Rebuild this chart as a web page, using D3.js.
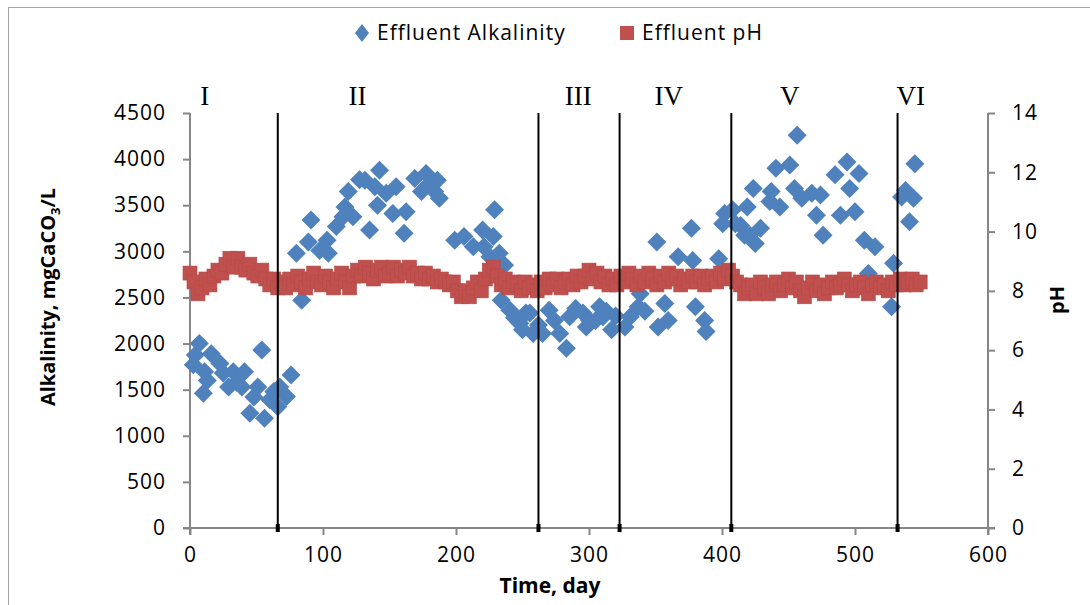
<!DOCTYPE html>
<html>
<head>
<meta charset="utf-8">
<script src="https://cdn.jsdelivr.net/npm/d3@7"></script>
<style>
  body { margin: 0; background: #fff; }
  svg { display: block; font-family: "Open Sans", sans-serif; }
</style>
</head>
<body>
<div id="chart"></div>
<script>
// Effluent alkalinity (mgCaCO3/L) and effluent pH over time

// Alkalinity series
var alkDays = [2.5, 4, 7, 10, 11, 13, 16, 22.5, 25, 29, 32.5, 35, 39, 41, 45, 48, 51, 54, 56, 60, 63, 66, 67.5, 72.5, 76,
  80, 84, 89, 91, 97.5, 103, 104, 110, 115, 116.5, 119, 122.5, 127.5, 131.5, 135, 139, 141, 142.5, 147.5, 152.5, 155,
  161, 162.5, 169, 174, 177.5, 180, 184, 186, 187.5, 199, 206, 213, 220, 221, 225.5, 228, 229, 232.5, 234, 236.5,
  240.5, 244, 248, 250, 252.5, 255.5, 258, 262, 265, 270, 274, 278, 283, 285.5, 290, 295.5, 298, 300.5, 305, 308,
  310.5, 313, 317, 320, 327, 331, 337, 338.5, 342, 351, 352, 357, 359.5, 367, 377, 378, 380, 387, 388, 397.5, 400.5,
  402, 408, 410, 414, 417, 419, 421, 423.5, 425, 429, 436, 437, 440.5, 443.5, 451, 454.5, 456.5, 460, 467.5, 471, 474,
  476, 485, 489, 494, 496, 500, 503, 507, 510, 515, 527.5, 529, 535, 538, 541, 544, 545];
var alkValues = [1770, 1875, 2000, 1460, 1695, 1600, 1890, 1785, 1680, 1530, 1695, 1580, 1530, 1695, 1245, 1420, 1530, 1930, 1190, 1390, 1480, 1315, 1530, 1425, 1660,
  2980, 2470, 3100, 3340, 3010, 3120, 2980, 3270, 3375, 3480, 3650, 3375, 3775, 3770, 3230, 3700, 3500, 3880, 3630, 3410, 3700,
  3195, 3430, 3790, 3650, 3845, 3735, 3650, 3770, 3575, 3120, 3160, 3050, 3230, 3050, 2940, 3160, 3450, 2980, 2470, 2850,
  2360, 2280, 2220, 2150, 2330, 2330, 2110, 2200, 2110, 2360, 2250, 2110, 1950, 2290, 2380, 2330, 2180, 2250, 2250, 2400,
  2290, 2350, 2150, 2300, 2180, 2290, 2400, 2540, 2350, 3100, 2180, 2435, 2250, 2940, 3250, 2900, 2400, 2250, 2130, 2920, 3300,
  3410, 3450, 3300, 3280, 3175, 3480, 3175, 3680, 3085, 3250, 3540, 3650, 3900, 3480, 3935, 3680, 4260, 3575, 3630, 3390, 3610,
  3175, 3830, 3390, 3970, 3680, 3430, 3845, 3120, 2760, 3050, 2400, 2870, 3590, 3660, 3320, 3575, 3950];

// pH series
var phDays = [0, 3, 6, 9, 12, 15, 18, 21, 24, 27,
  30, 33, 36, 39, 42, 45, 48, 51, 54, 57,
  60, 63, 66, 69, 72, 75, 78, 81, 84, 87,
  90, 93, 96, 99, 102, 105, 108, 111, 114, 117,
  120, 123, 126, 129, 132, 135, 138, 141, 144, 147,
  150, 153, 156, 159, 162, 165, 168, 171, 174, 177,
  180, 183, 186, 189, 192, 195, 198, 201, 204, 207,
  210, 213, 216, 219, 222, 225, 228, 231, 234, 237,
  240, 243, 246, 249, 252, 255, 258, 261, 264, 267,
  270, 273, 276, 279, 282, 285, 288, 291, 294, 297,
  300, 303, 306, 309, 312, 315, 318, 321, 324, 327,
  330, 333, 336, 339, 342, 345, 348, 351, 354, 357,
  360, 363, 366, 369, 372, 375, 378, 381, 384, 387,
  390, 393, 396, 399, 402, 405, 408, 411, 414, 417,
  420, 423, 426, 429, 432, 435, 438, 441, 444, 447,
  450, 453, 456, 459, 462, 465, 468, 471, 474, 477,
  480, 483, 486, 489, 492, 495, 498, 501, 504, 507,
  510, 513, 516, 519, 522, 525, 528, 531, 534, 537,
  540, 543, 546, 549];
var phValues = [8.6, 8.3, 7.9, 8.1, 8.4, 8.2, 8.5, 8.7, 8.6, 8.9,
  9.1, 8.8, 9.1, 8.8, 8.7, 8.9, 8.6, 8.5, 8.7, 8.4,
  8.2, 8.4, 8.1, 8.3, 8.1, 8.4, 8.2, 8.5, 8.3, 8.1,
  8.4, 8.6, 8.3, 8.2, 8.5, 8.3, 8.1, 8.4, 8.6, 8.3,
  8.1, 8.5, 8.7, 8.5, 8.8, 8.6, 8.4, 8.7, 8.8, 8.5,
  8.6, 8.8, 8.5, 8.7, 8.6, 8.8, 8.5, 8.6, 8.4, 8.6,
  8.4, 8.5, 8.3, 8.4, 8.3, 8.2, 8.3, 8.0, 7.8, 8.0,
  7.8, 8.1, 8.3, 8.0, 8.4, 8.7, 8.8, 8.5, 8.2, 8.4,
  8.1, 8.3, 8.2, 8.0, 8.3, 8.1, 8.2, 8.0, 8.3, 8.1,
  8.4, 8.2, 8.4, 8.1, 8.3, 8.4, 8.2, 8.5, 8.3, 8.5,
  8.7, 8.4, 8.6, 8.3, 8.5, 8.2, 8.4, 8.2, 8.5, 8.3,
  8.6, 8.4, 8.2, 8.5, 8.3, 8.6, 8.4, 8.2, 8.5, 8.3,
  8.6, 8.4, 8.5, 8.2, 8.4, 8.3, 8.5, 8.3, 8.5, 8.2,
  8.4, 8.5, 8.3, 8.6, 8.4, 8.7, 8.5, 8.3, 8.2, 7.9,
  8.1, 8.2, 7.9, 8.3, 8.1, 7.9, 8.2, 8.3, 8.0, 8.2,
  8.4, 8.1, 8.3, 8.0, 7.8, 8.1, 8.3, 8.0, 8.2, 7.9,
  8.1, 8.3, 8.1, 8.2, 8.4, 8.2, 8.0, 8.2, 8.3, 8.1,
  7.9, 8.2, 8.3, 8.1, 8.2, 8.0, 8.3, 8.2, 8.4, 8.2,
  8.3, 8.4, 8.2, 8.3];

// Operating phases
var phaseNames = ['I', 'II', 'III', 'IV', 'V', 'VI'];
var phaseBounds = [66, 262, 323, 407, 532];

// Ticks
var xTicks = [0, 100, 200, 300, 400, 500, 600];
var alkTicks = [0, 500, 1000, 1500, 2000, 2500, 3000, 3500, 4000, 4500];
var phTicks = [0, 2, 4, 6, 8, 10, 12, 14];

function drawChart() {
  var alkData = alkDays.map(function(d, i) { return {day: d, value: alkValues[i]}; });
  var phData = phDays.map(function(d, i) { return {day: d, value: phValues[i]}; });

  var width = 1090, height = 605;
  var plotL = 190, plotR = 988, plotT = 113, plotB = 528;
  var axisColor = '#868686';
  var blue = '#4F81BD', red = '#C0504D';
  // where the phase numerals sit (in days)
  var phaseLabelDay = [11, 126, 292, 360, 451, 542];

  var svg = d3.select('#chart').append('svg')
    .attr('width', width)
    .attr('height', height);

  // outer frame
  svg.append('rect')
    .attr('x', 8.5).attr('y', 7.5)
    .attr('width', 1100).attr('height', 620)
    .style('fill', 'none')
    .style('stroke', '#a6a6a6')
    .style('stroke-width', 1);

  var x = d3.scaleLinear().domain([0, 600]).range([plotL, plotR]);
  var yAlk = d3.scaleLinear().domain([0, 4500]).range([plotB, plotT]);
  var yPh = d3.scaleLinear().domain([0, 14]).range([plotB, plotT]);

  // Axes
  var xAxis = svg.append('g')
    .attr('transform', 'translate(0,' + plotB + ')')
    .call(d3.axisBottom(x).tickValues(xTicks).tickSize(7).tickPadding(12).tickFormat(d3.format('d')));
  var yAxisL = svg.append('g')
    .attr('transform', 'translate(' + plotL + ',0)')
    .call(d3.axisLeft(yAlk).tickValues(alkTicks).tickSize(7).tickPadding(17).tickFormat(d3.format('d')));
  var yAxisR = svg.append('g')
    .attr('transform', 'translate(' + plotR + ',0)')
    .call(d3.axisRight(yPh).tickValues(phTicks).tickSize(7).tickPadding(17));

  [xAxis, yAxisL, yAxisR].forEach(function(a) {
    a.select('.domain').remove();
    a.selectAll('.tick line').style('stroke', axisColor).style('stroke-width', 2);
    a.selectAll('.tick text')
      .style('font-family', '"Open Sans", sans-serif')
      .style('font-size', '21px')
      .style('letter-spacing', '1px')
      .style('fill', '#000');
  });
  // axis lines
  svg.append('line').attr('x1', plotL - 7).attr('x2', plotR + 7).attr('y1', plotB).attr('y2', plotB)
    .style('stroke', axisColor).style('stroke-width', 2);
  svg.append('line').attr('x1', plotL).attr('x2', plotL).attr('y1', plotT).attr('y2', plotB + 7)
    .style('stroke', axisColor).style('stroke-width', 2);
  svg.append('line').attr('x1', plotR).attr('x2', plotR).attr('y1', plotT).attr('y2', plotB + 7)
    .style('stroke', axisColor).style('stroke-width', 2);

  // Alkalinity diamonds
  var dh = 9.5;
  svg.append('g').selectAll('path')
    .data(alkData)
    .enter().append('path')
    .attr('d', 'M0,' + (-dh) + 'L' + dh + ',0L0,' + dh + 'L' + (-dh) + ',0Z')
    .attr('transform', function(d) { return 'translate(' + x(d.day) + ',' + yAlk(d.value) + ')'; })
    .style('fill', blue);

  // pH squares
  var sq = 14;
  svg.append('g').selectAll('rect')
    .data(phData)
    .enter().append('rect')
    .attr('x', function(d) { return x(d.day) - sq / 2; })
    .attr('y', function(d) { return yPh(d.value) - sq / 2; })
    .attr('width', sq).attr('height', sq)
    .style('fill', red)
    .style('stroke', '#b44a47')
    .style('stroke-width', 0.6);

  // Phase boundaries
  var bounds = svg.append('g').selectAll('g')
    .data(phaseBounds)
    .enter().append('g');
  bounds.append('line')
    .attr('x1', function(d) { return x(d); })
    .attr('x2', function(d) { return x(d); })
    .attr('y1', plotT)
    .attr('y2', plotB)
    .style('stroke', '#000')
    .style('stroke-width', 2);
  bounds.append('rect')
    .attr('x', function(d) { return x(d) - 2; })
    .attr('y', plotB - 4)
    .attr('width', 4).attr('height', 8)
    .style('fill', '#000');

  // Phase labels
  svg.append('g').selectAll('text')
    .data(phaseNames)
    .enter().append('text')
    .attr('x', function(d, i) { return x(phaseLabelDay[i]); })
    .attr('y', 105)
    .attr('text-anchor', 'middle')
    .style('font-family', '"Liberation Serif", serif')
    .style('font-size', '27px')
    .text(function(d) { return d; });

  // Axis titles
  svg.append('text')
    .attr('transform', 'translate(55,297) rotate(-90)')
    .attr('text-anchor', 'middle')
    .style('font-size', '20px')
    .style('font-weight', 'bold')
    .call(function(t) {
      t.append('tspan').text('Alkalinity, mgCaCO');
      t.append('tspan').attr('dy', 5).style('font-size', '13px').text('3');
      t.append('tspan').attr('dy', -5).text('/L');
    });
  svg.append('text')
    .attr('transform', 'translate(1064,300) rotate(-90)')
    .attr('text-anchor', 'middle')
    .style('font-size', '20px')
    .style('font-weight', 'bold')
    .text('pH');
  svg.append('text')
    .attr('x', 550).attr('y', 593)
    .attr('text-anchor', 'middle')
    .style('font-size', '21px')
    .style('font-weight', 'bold')
    .text('Time, day');

  // Legend
  var legend = svg.append('g');
  legend.append('path')
    .attr('d', 'M0,-9L7,0L0,9L-7,0Z')
    .attr('transform', 'translate(362,33)')
    .style('fill', blue);
  legend.append('text')
    .attr('x', 377).attr('y', 40)
    .style('font-size', '21px')
    .style('letter-spacing', '1px')
    .text('Effluent Alkalinity');
  legend.append('rect')
    .attr('x', 620).attr('y', 26)
    .attr('width', 14).attr('height', 14)
    .style('fill', red);
  legend.append('text')
    .attr('x', 642).attr('y', 40)
    .style('font-size', '21px')
    .style('letter-spacing', '1px')
    .text('Effluent pH');
}

drawChart();
</script>
</body>
</html>
